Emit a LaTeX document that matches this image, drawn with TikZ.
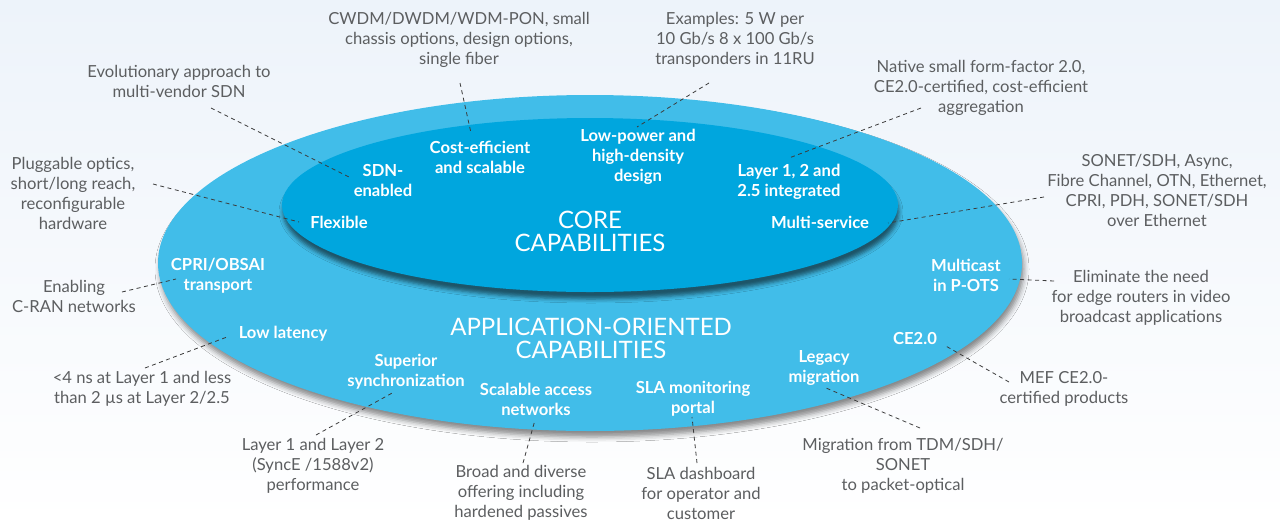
\documentclass[tikz,border=0pt]{standalone}
\usepackage{fontspec}
\setmainfont{Lato}
\usetikzlibrary{shadows.blur}
\definecolor{outerblue}{HTML}{41BDE9}
\definecolor{innerblue}{HTML}{00A6DE}
\definecolor{notegray}{HTML}{5C5E60}
\definecolor{linegray}{HTML}{3C3C3C}
\definecolor{bgtop}{HTML}{EDF3FA}
\begin{document}
\begin{tikzpicture}[x=1pt, y=-1pt,
    note/.style={inner sep=0pt, align=center, text=notegray, font=\fontsize{16.6}{20}\selectfont},
    feat/.style={inner sep=0pt, align=center, text=white, font=\bfseries\fontsize{16.6}{20}\selectfont},
    heading/.style={inner sep=0pt, align=center, text=white, font=\fontsize{24}{23}\selectfont},
    link/.style={draw=linegray, line width=0.8pt, dash pattern=on 4pt off 3.5pt}]
    \shade[top color=bgtop, bottom color=white] (0,0) rectangle (1280,523);
    \useasboundingbox (0,0) rectangle (1280,523);
    % the two rings
    \fill[outerblue, blur shadow={shadow xshift=2pt, shadow yshift=-6pt, shadow blur radius=5pt, shadow opacity=45}]
        (590,263) ellipse [x radius=432, y radius=168];
    \fill[innerblue, blur shadow={shadow xshift=1pt, shadow yshift=-7pt, shadow blur radius=4pt, shadow opacity=55}]
        (590,205) ellipse [x radius=308, y radius=87];
    % core capabilities
    \node[heading] (core) at (590,231) {CORE\\CAPABILITIES};
    \node[feat] (sdn) at (383,180) {SDN-\\enabled};
    \node[feat] (cost) at (480,157) {Cost-efficient\\and scalable};
    \node[feat] (lowp) at (638,157) {Low-power and\\high-density\\design};
    \node[feat] (layer) at (789,182) {Layer 1, 2 and\\2.5 integrated};
    \node[feat] (flex) at (339,222) {Flexible};
    \node[feat] (multi) at (820,222) {Multi-service};
    % application-oriented capabilities
    \node[heading] (appl) at (591,338) {APPLICATION-ORIENTED\\CAPABILITIES};
    \node[feat] (cpri) at (218,276) {CPRI/OBSAI\\transport};
    \node[feat] (mcast) at (966,275) {Multicast\\in P-OTS};
    \node[feat] (lowl) at (283,334) {Low latency};
    \node[feat] (sync) at (406,372) {Superior\\synchronization};
    \node[feat] (scal) at (536,399) {Scalable access\\networks};
    \node[feat] (sla) at (693,399) {SLA monitoring\\portal};
    \node[feat] (legacy) at (824,368) {Legacy\\migration};
    \node[feat] (ce) at (915,338) {CE2.0};
    % notes
    \node[note] (cwdm) at (459,40) {CWDM/DWDM/WDM-PON, small\\chassis options, design options,\\single fiber};
    \node[note] (exmpl) at (735,40) {Examples: 5 W per\\10 Gb/s 8 x 100 Gb/s\\transponders in 11RU};
    \node[note] (evol) at (179,81) {Evolutionary approach to\\multi-vendor SDN};
    \node[note] (native) at (981,88) {Native small form-factor 2.0,\\CE2.0-certified, cost-efficient\\aggregation};
    \node[note] (plug) at (73,193) {Pluggable optics,\\short/long reach,\\reconfigurable\\hardware};
    \node[note] (sonet) at (1157,190) {SONET/SDH, Async,\\Fibre Channel, OTN, Ethernet,\\CPRI, PDH, SONET/SDH\\over Ethernet};
    \node[note] (cran) at (74,296) {Enabling\\C-RAN networks};
    \node[note] (elim) at (1141,298) {Eliminate the need\\for edge routers in video\\broadcast applications};
    \node[note] (lat) at (142,389) {<4 ns at Layer 1 and less\\than 2 µs at Layer 2/2.5};
    \node[note] (mef) at (1064,389) {MEF CE2.0-\\certified products};
    \node[note] (perf) at (313,466) {Layer 1 and Layer 2\\(SyncE /1588v2)\\performance};
    \node[note] (broad) at (521,493) {Broad and diverse\\offering including\\hardened passives};
    \node[note] (dash) at (701,493) {SLA dashboard\\for operator and\\customer};
    \node[note] (migr) at (903,466) {Migration from TDM/SDH/\\SONET\\to packet-optical};
    % dashed leaders
    \draw[link] ([shift={(32,27)}]evol.center) -- ([shift={(-34,-3)}]sdn.center);
    \draw[link] ([shift={(1,43)}]cwdm.center) -- ([shift={(-9,-24)}]cost.center);
    \draw[link] ([shift={(-26,43)}]exmpl.center) -- ([shift={(-1,-30)}]lowp.center);
    \draw[link] ([shift={(-60,20)}]native.center) -- ([shift={(0,-24)}]layer.center);
    \draw[link] ([shift={(80,-9)}]plug.center) -- ([shift={(-40,0)}]flex.center);
    \draw[link] ([shift={(-113,7)}]sonet.center) -- ([shift={(68,1)}]multi.center);
    \draw[link] ([shift={(48,-4)}]cran.center) -- ([shift={(-42,3)}]cpri.center);
    \draw[link] ([shift={(-87,-17)}]elim.center) -- ([shift={(43,4)}]mcast.center);
    \draw[link] ([shift={(3,-21)}]lat.center) -- ([shift={(-56,3)}]lowl.center);
    \draw[link] ([shift={(3,-31)}]perf.center) -- ([shift={(-12,20)}]sync.center);
    \draw[link] ([shift={(2,-30)}]broad.center) -- ([shift={(-1,21)}]scal.center);
    \draw[link] ([shift={(-4,-30)}]dash.center) -- ([shift={(-1,18)}]sla.center);
    \draw[link] ([shift={(17,-38)}]migr.center) -- ([shift={(2,20)}]legacy.center);
    \draw[link] ([shift={(-55,-7)}]mef.center) -- ([shift={(29,7)}]ce.center);
\end{tikzpicture}
\end{document}
